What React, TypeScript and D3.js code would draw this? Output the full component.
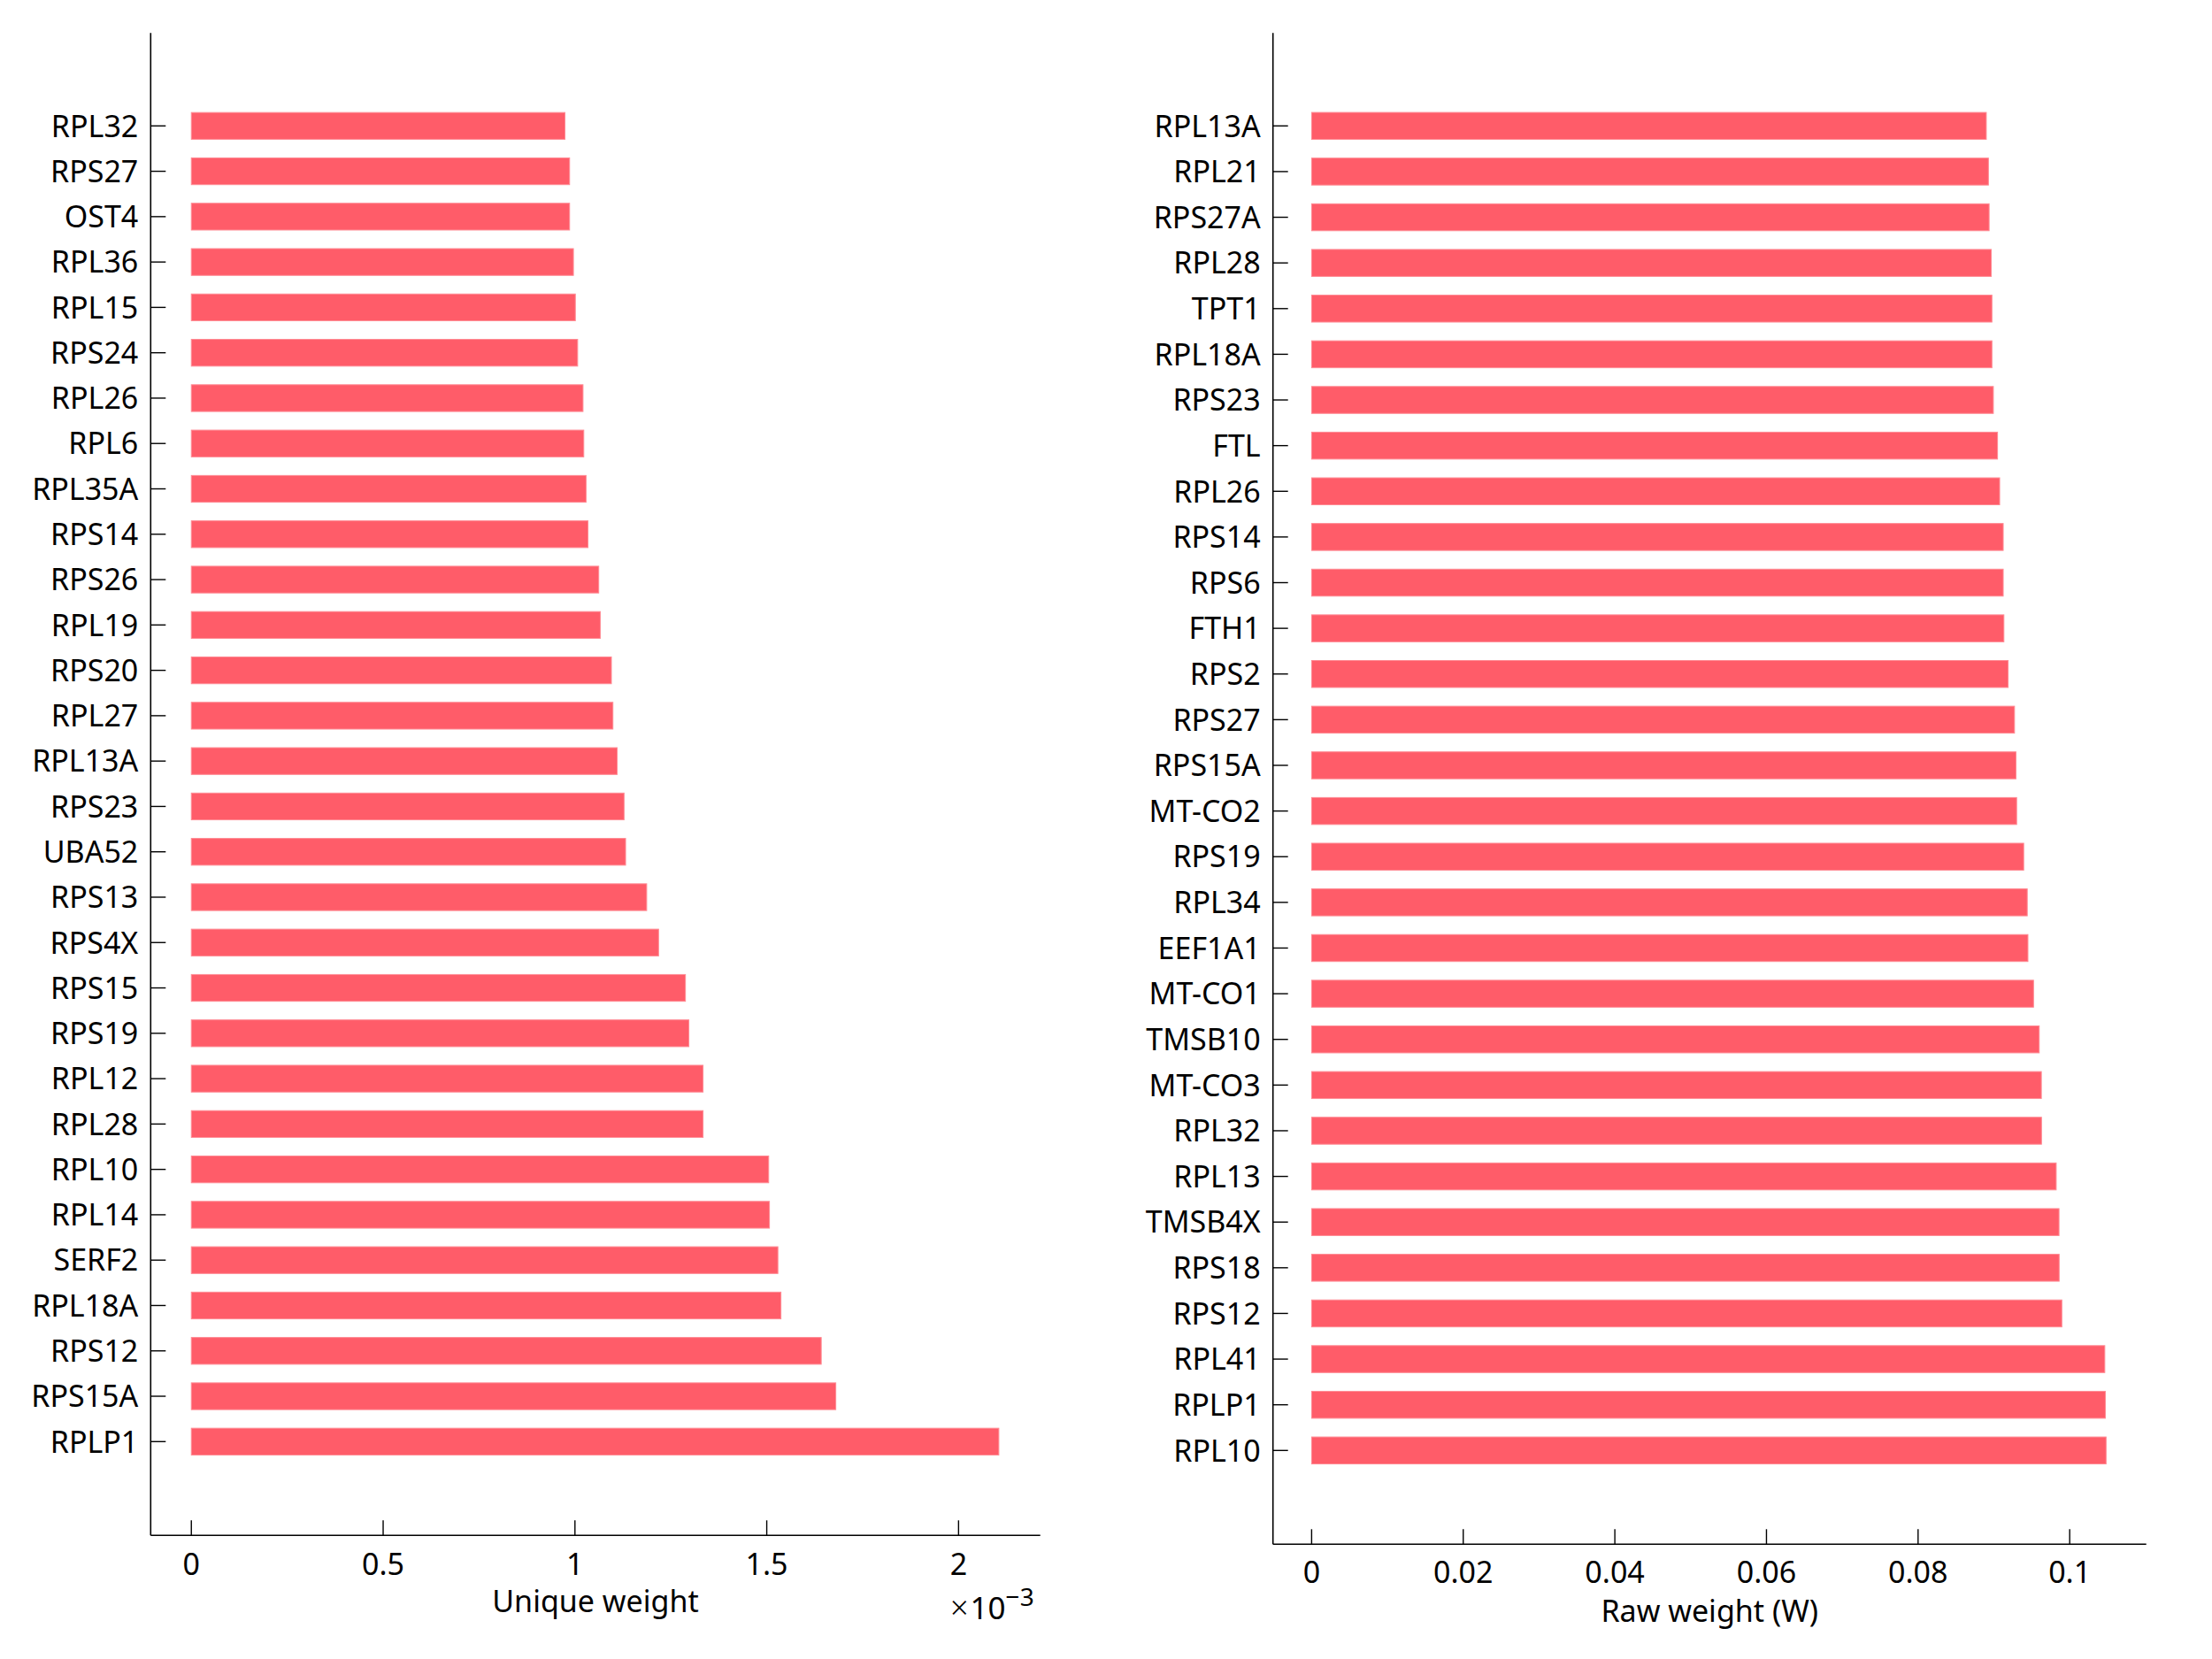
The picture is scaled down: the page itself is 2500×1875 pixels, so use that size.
import * as d3 from "d3";
import { useEffect, useRef } from "react";

// left panel: unique weight
const uniqueGenes = [
  "RPL32", "RPS27", "OST4", "RPL36", "RPL15", "RPS24", "RPL26", "RPL6", "RPL35A", "RPS14",
  "RPS26", "RPL19", "RPS20", "RPL27", "RPL13A", "RPS23", "UBA52", "RPS13", "RPS4X", "RPS15",
  "RPS19", "RPL12", "RPL28", "RPL10", "RPL14", "SERF2", "RPL18A", "RPS12", "RPS15A", "RPLP1",
];
const uniqueValues = [
  0.000974, 0.000986, 0.000986, 0.000996, 0.001001, 0.001007, 0.001021, 0.001023, 0.001029, 0.001034,
  0.001062, 0.001066, 0.001095, 0.001099, 0.00111, 0.001128, 0.001132, 0.001187, 0.001218, 0.001288,
  0.001297, 0.001334, 0.001334, 0.001505, 0.001507, 0.001529, 0.001537, 0.001642, 0.00168, 0.002105,
];
const uniqueTicks = [0, 0.0005, 0.001, 0.0015, 0.002];
const uniqueTickLabels = ["0", "0.5", "1", "1.5", "2"];

// right panel: raw weight
const rawGenes = [
  "RPL13A", "RPL21", "RPS27A", "RPL28", "TPT1", "RPL18A", "RPS23", "FTL", "RPL26", "RPS14",
  "RPS6", "FTH1", "RPS2", "RPS27", "RPS15A", "MT-CO2", "RPS19", "RPL34", "EEF1A1", "MT-CO1",
  "TMSB10", "MT-CO3", "RPL32", "RPL13", "TMSB4X", "RPS18", "RPS12", "RPL41", "RPLP1", "RPL10",
];
const rawValues = [
  0.0890, 0.08928, 0.08937, 0.08965, 0.08974, 0.08974, 0.08993, 0.09048, 0.09076, 0.09123,
  0.09123, 0.09132, 0.09188, 0.09272, 0.09291, 0.093, 0.09393, 0.0944, 0.09449, 0.09523,
  0.09598, 0.09626, 0.09628, 0.09822, 0.09859, 0.09861, 0.09896, 0.10463, 0.1047, 0.1048,
];
const rawTicks = [0, 0.02, 0.04, 0.06, 0.08, 0.1];
const rawTickLabels = ["0", "0.02", "0.04", "0.06", "0.08", "0.1"];

const BAR = "#ff5c69";
const FONT = "'Noto Sans', sans-serif";

export default function App() {
  const svgRef = useRef<SVGSVGElement>(null);

  useEffect(() => {
    document.body.style.margin = "0";
    const svg = d3.select(svgRef.current);
    svg.selectAll("*").remove();
    svg.attr("width", 2500).attr("height", 1875);
    svg.append("rect").attr("width", 2500).attr("height", 1875).attr("fill", "#fff");

    const panels = [
      {
        genes: uniqueGenes, values: uniqueValues, ticks: uniqueTicks, tickLabels: uniqueTickLabels,
        left: 170.3, right: 1175.7, top: 37.3, bottom: 1735.3, first: 142.3, last: 1629.3,
        domain: [-0.000106, 0.002213], label: "Unique weight", labelDy: 87, tickDy: 45, exp: true,
      },
      {
        genes: rawGenes, values: rawValues, ticks: rawTicks, tickLabels: rawTickLabels,
        left: 1438.7, right: 2425.7, top: 37.3, bottom: 1745.3, first: 142.3, last: 1639.3,
        domain: [-0.0051, 0.1101], label: "Raw weight (W)", labelDy: 88, tickDy: 44, exp: false,
      },
    ];

    panels.forEach((p) => {
      const x = d3.scaleLinear().domain(p.domain).range([p.left, p.right]);
      const y = d3.scaleLinear().domain([1, p.genes.length]).range([p.first, p.last]);
      const bh = y(0.59) - y(0);
      const g = svg.append("g");

      // bars
      g.selectAll(".bar")
        .data(p.values)
        .enter()
        .append("rect")
        .attr("x", x(0))
        .attr("y", (_, i) => y(i + 1) - bh / 2)
        .attr("width", (d) => x(d) - x(0))
        .attr("height", bh)
        .attr("fill", BAR)
        .attr("stroke", "#ff8a93")
        .attr("stroke-width", 1);

      // axis lines
      g.append("line")
        .attr("x1", p.left).attr("x2", p.left)
        .attr("y1", p.top).attr("y2", p.bottom)
        .attr("stroke", "#000").attr("stroke-width", 1.6);
      g.append("line")
        .attr("x1", p.left).attr("x2", p.right)
        .attr("y1", p.bottom).attr("y2", p.bottom)
        .attr("stroke", "#000").attr("stroke-width", 1.6);

      // y ticks + labels
      g.selectAll(".ytick")
        .data(p.genes)
        .enter()
        .append("line")
        .attr("x1", p.left).attr("x2", p.left + 17)
        .attr("y1", (_, i) => y(i + 1)).attr("y2", (_, i) => y(i + 1))
        .attr("stroke", "#000").attr("stroke-width", 1.4);
      g.selectAll(".ylab")
        .data(p.genes)
        .enter()
        .append("text")
        .attr("x", p.left - 14)
        .attr("y", (_, i) => y(i + 1))
        .attr("dy", "0.36em")
        .attr("text-anchor", "end")
        .attr("font-family", FONT)
        .attr("font-size", 34)
        .text((d) => d);

      // x ticks + labels
      g.selectAll(".xtick")
        .data(p.ticks)
        .enter()
        .append("line")
        .attr("x1", (d) => x(d)).attr("x2", (d) => x(d))
        .attr("y1", p.bottom).attr("y2", p.bottom - 17)
        .attr("stroke", "#000").attr("stroke-width", 1.4);
      g.selectAll(".xlab")
        .data(p.ticks)
        .enter()
        .append("text")
        .attr("x", (d) => x(d))
        .attr("y", p.bottom + p.tickDy)
        .attr("text-anchor", "middle")
        .attr("font-family", FONT)
        .attr("font-size", 34)
        .text((_, i) => p.tickLabels[i]);

      g.append("text")
        .attr("x", (p.left + p.right) / 2)
        .attr("y", p.bottom + p.labelDy)
        .attr("text-anchor", "middle")
        .attr("font-family", FONT)
        .attr("font-size", 34)
        .text(p.label);

      if (p.exp) {
        const t = g.append("text")
          .attr("x", 1074)
          .attr("y", 1830)
          .attr("font-family", FONT)
          .attr("font-size", 35);
        t.append("tspan").attr("font-size", 36).attr("font-weight", 300).text("\u00d7");
        t.append("tspan").attr("dx", 2).text("10");
        t.append("tspan").attr("font-size", 28).attr("dy", -15).text("\u22123");
      }
    });
  }, []);

  return <svg ref={svgRef} style={{ display: "block" }} />;
}
